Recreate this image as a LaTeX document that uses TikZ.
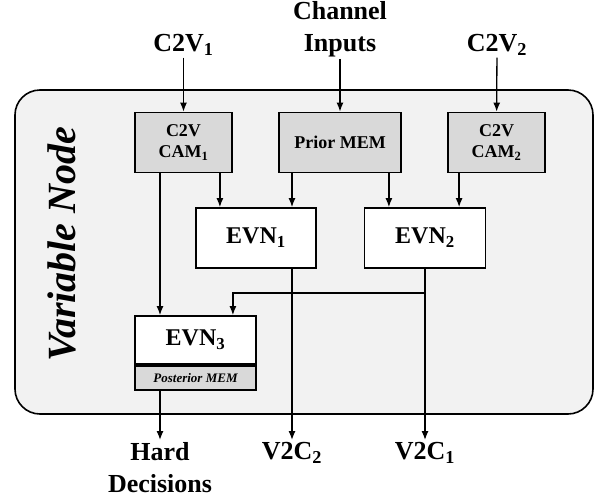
\documentclass[tikz,border=0pt]{standalone}
\usepackage{fontspec}
\setmainfont{Liberation Serif}
\usetikzlibrary{arrows.meta}
\begin{document}
\begin{tikzpicture}[x=1pt, y=-1pt,
  blk/.style={draw, line width=1.8pt, fill=#1, inner sep=0pt, align=center},
  blk/.default=white,
  lbl/.style={font=\fontsize{26}{32}\selectfont\bfseries, align=center, inner sep=2pt},
  small/.style={font=\fontsize{18}{21}\selectfont\bfseries},
  big/.style={font=\fontsize{24}{30}\selectfont\bfseries},
  arr/.style={line width=1.3pt, -{Latex[length=9pt,width=7pt]}}]
  \useasboundingbox (0,0) rectangle (599,501);
  % outer frame
  \draw[line width=1.6pt, fill=black!5, rounded corners=25pt] (15,90) rectangle (593,414);
  \node[font=\fontsize{40}{44}\selectfont\bfseries\itshape, rotate=90] (vn) at (62,244) {Variable Node};
  % memories and units
  \node[blk=black!15, small, minimum width=97pt, minimum height=60pt] (cam1) at (183.5,142.5) {C2V\\CAM\textsubscript{1}};
  \node[blk=black!15, small, minimum width=122pt, minimum height=60pt] (prior) at (340,142.5) {Prior MEM};
  \node[blk=black!15, small, minimum width=97pt, minimum height=60pt] (cam2) at (496.5,142.5) {C2V\\CAM\textsubscript{2}};
  \node[blk, big, minimum width=120pt, minimum height=60pt] (evn1) at (256,238) {EVN\textsubscript{1}};
  \node[blk, big, minimum width=121pt, minimum height=60pt] (evn2) at (425,238) {EVN\textsubscript{2}};
  \node[blk, big, minimum width=121pt, minimum height=48pt] (evn3) at (195.5,340) {EVN\textsubscript{3}};
  \node[blk=black!15, font=\fontsize{13}{15}\selectfont\bfseries\itshape, minimum width=121pt, minimum height=24pt, anchor=north] (post) at (evn3.south) {Posterior MEM};
  % inputs and outputs
  \node[lbl] (c2v1) at (183.5,45) {C2V\textsubscript{1}};
  \node[lbl] (chin) at (340,29) {Channel\\Inputs};
  \node[lbl] (c2v2) at (497,45) {C2V\textsubscript{2}};
  \node[lbl, anchor=north] (hard) at (160,440) {Hard\\Decisions};
  \node[lbl, anchor=north] (v2c2) at (292,440) {V2C\textsubscript{2}};
  \node[lbl, anchor=north] (v2c1) at (425,440) {V2C\textsubscript{1}};
  \coordinate (tap) at (evn2.south |- 0,293);
  \draw[arr] (c2v1) -- (cam1);
  \draw[arr] (chin) -- (prior);
  \draw[arr] (c2v2) -- (cam2);
  \draw[arr] ([xshift=-13pt]cam1.south east) -- ([xshift=-13pt]cam1.south east |- evn1.north);
  \draw[arr] (cam1.south -| hard) -- (evn3.north -| hard);
  \draw[arr] (prior.south -| v2c2) -- (evn1.north -| v2c2);
  \draw[arr] ([xshift=-13pt]prior.south east) -- ([xshift=-13pt]prior.south east |- evn2.north);
  \draw[arr] ([xshift=12pt]cam2.south west) -- ([xshift=12pt]cam2.south west |- evn2.north);
  \draw[arr] (evn1.south -| v2c2) -- (v2c2.north);
  \draw[arr] (evn2.south) -- (v2c1.north);
  \draw[arr] (tap) -| (evn3.north -| cam1.east);
  \draw[arr] (post.south -| hard) -- (hard.north);
\end{tikzpicture}
\end{document}
